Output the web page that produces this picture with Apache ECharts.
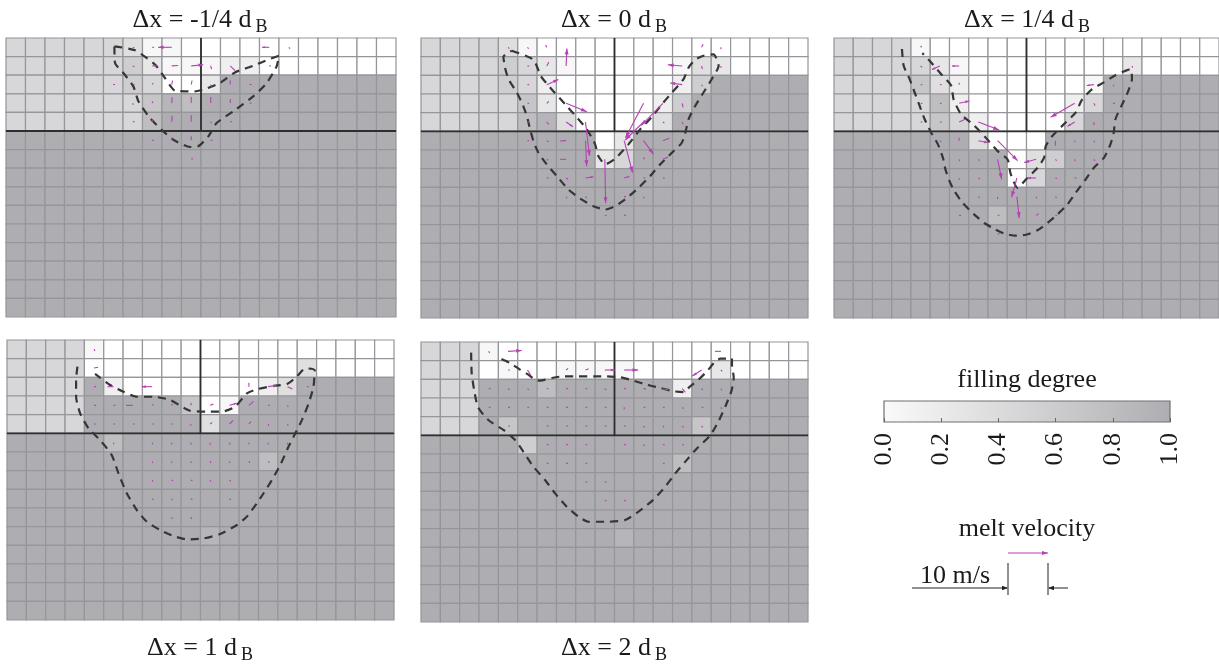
<!DOCTYPE html>
<html><head><meta charset="utf-8">
<script src="https://cdn.jsdelivr.net/npm/echarts@6/dist/echarts.min.js"></script>
<style>html,body{margin:0;padding:0;background:#fff}#c{width:1219px;height:666px}</style>
</head><body><div id="c"></div>
<script>
// ---------------- DATA ----------------
// filling degree per cell: '0'..'9' = 0.0..0.9, 'X' = 1.0 ; 15 rows x 20 columns
const FILL_M14 = [
"55555541100000000000",
"55555563111220000000",
"55555565003XXXXXXXXX",
"5555555798XXXXXXXXXX",
"55555558XXXXXXXXXXXX",
"XXXXXXXXXXXXXXXXXXXX","XXXXXXXXXXXXXXXXXXXX","XXXXXXXXXXXXXXXXXXXX","XXXXXXXXXXXXXXXXXXXX","XXXXXXXXXXXXXXXXXXXX",
"XXXXXXXXXXXXXXXXXXXX","XXXXXXXXXXXXXXXXXXXX","XXXXXXXXXXXXXXXXXXXX","XXXXXXXXXXXXXXXXXXXX","XXXXXXXXXXXXXXXXXXXX"];
const FILL_0 = [
"55554100000000000000",
"55556531000001430000",
"555565200000026XXXXX",
"55555730000026XXXXXX",
"5555589400004XXXXXXX",
"XXXXXXXXX03XXXXXXXXX",
"XXXXXXXXX35XXXXXXXXX",
"XXXXXXXXXXXXXXXXXXXX","XXXXXXXXXXXXXXXXXXXX","XXXXXXXXXXXXXXXXXXXX",
"XXXXXXXXXXXXXXXXXXXX","XXXXXXXXXXXXXXXXXXXX","XXXXXXXXXXXXXXXXXXXX","XXXXXXXXXXXXXXXXXXXX","XXXXXXXXXXXXXXXXXXXX"];
const FILL_14 = [
"55551000000000000000",
"55555310000000030000",
"55557420000001XXXXXX",
"55555820000025XXXXXX",
"5555575200005XXXXXXX",
"XXXXXXX4000XXXXXXXXX",
"XXXXXXXXX046XXXXXXXX",
"XXXXXXXXX05XXXXXXXXX",
"XXXXXXXXXXXXXXXXXXXX",
"XXXXXXXX8XXXXXXXXXXX",
"XXXXXXXXXXXXXXXXXXXX","XXXXXXXXXXXXXXXXXXXX","XXXXXXXXXXXXXXXXXXXX","XXXXXXXXXXXXXXXXXXXX","XXXXXXXXXXXXXXXXXXXX"];
const FILL_1 = [
"55551000000000000000",
"55550000000000040000",
"5555X2000000024XXXXX",
"5555XXXXX701XXXXXXXX",
"5555XXXXXX4XXXXXXXXX",
"XXXXX8XXXXXXXXXXXXXX",
"XXXXXXXXXXXXX8XXXXXX",
"XXXXXXXXXXXXXXXXXXXX","XXXXXXXXXXXXXXXXXXXX","XXXXXXXXXXXXXXXXXXXX",
"XXXXXXXXXX9XXXXXXXXX",
"XXXXXXXXXXXXXXXXXXXX","XXXXXXXXXXXXXXXXXXXX","XXXXXXXXXXXXXXXXXXXX","XXXXXXXXXXXXXXXXXXXX"];
const FILL_2 = [
"55510000000000000000",
"55501001111000030000",
"555XXX8XXXXXX2XXXXXX",
"555XXXXXXXXXXXXXXXXX",
"555X7XXXXXXXXX7XXXXX",
"XXXXX6XXXXXXXXXXXXXX",
"XXXXXXXXXXXXX8XXXXXX",
"XXXXXXXXXXXXXXXXXXXX","XXXXXXXXXXXXXXXXXXXX","XXXXXXXXXXXXXXXXXXXX",
"XXXXXXXXXX9XXXXXXXXX",
"XXXXXXXXXXXXXXXXXXXX","XXXXXXXXXXXXXXXXXXXX","XXXXXXXXXXXXXXXXXXXX","XXXXXXXXXXXXXXXXXXXX"];

// melt velocity vectors: [column, row, u (m/s, right +), v (m/s, down +)]
const VEL_M14 = [
[6,0,0.2,0.1],[7,0,0.3,0],[8,0,-3.4,0],[13,0,-1.8,0],[14,0,0.2,0.2],
[6,1,0.2,0.1],[7,1,1.4,0],[8,1,1.6,-0.1],[9,1,3,-0.3],[10,1,0.2,0.8],[11,1,1.2,1.2],[12,1,0.2,0],[13,1,0.2,0],
[5,2,0.2,0],[6,2,0.2,0],[7,2,0.2,-0.3],[8,2,0.2,-1],[9,2,0.2,-1],[10,2,0.1,0.5],[11,2,0,-1],[12,2,0.1,0],
[6,3,0.1,0.3],[7,3,0.1,-0.4],[8,3,0.1,-1.5],[9,3,0,-1.6],[10,3,0,-1.5],[11,3,0,-1],[12,3,0.1,0],
[6,4,0.1,0],[7,4,0,-0.5],[8,4,0.1,-1.5],[9,4,0,-1.6],[10,4,0.1,0.3],[11,4,0.1,0],
[7,5,0.1,0],[8,5,0.1,-0.7],[9,5,0,-1],[10,5,0.1,0],[9,6,0.1,0]];
const VEL_0 = [
[4,0,0.1,0.1],[5,0,0.1,0.1],[6,0,-0.3,-0.6],[14,0,0.4,-0.8],[15,0,0,0.3],
[5,1,0.3,0],[6,1,0.5,-1],[7,1,0.2,-4.4],[13,1,-3.6,-0.3],[14,1,0.2,0.8],[15,1,0,0.3],
[5,2,0.3,0],[6,2,2.9,-1.3],[13,2,-3,-0.4],[14,2,0.1,0.2],
[5,3,0.2,0],[6,3,0.5,-0.5],[7,3,5.2,2.1],[11,3,-4.5,8.6],[12,3,-5.4,5.5],[13,3,0.2,1],
[5,4,0.2,0],[6,4,0.5,0.6],[7,4,1.7,1.2],[8,4,1,8.5],[11,4,-4.6,4.5],[12,4,0.3,0.2],[13,4,0.2,0.6],
[5,5,0.2,0],[6,5,0.5,0.3],[7,5,-1.5,0.1],[8,5,0.3,6.4],[10,5,2.1,8],[11,5,2.5,3.4],[12,5,1.6,-0.6],
[6,6,0.3,0.2],[7,6,-1.5,0],[9,6,0.2,11],[11,6,0.3,-0.5],[12,6,1.3,-0.6],
[6,7,0.1,0],[7,7,0.5,0.3],[8,7,2,-0.3],[10,7,1.3,-0.4],[11,7,0.1,0],[12,7,0.1,0],
[7,8,0.1,0.2],[8,8,0.3,0.3],[10,8,0.2,0],[11,8,0.1,0.3],[9,9,0.1,0],[10,9,0.1,0]];
const VEL_14 = [
[4,0,0.2,-0.3],
[4,1,0.1,0.1],[5,1,-2,0.9],[6,1,-1.8,0],[15,1,0,0.2],
[4,2,0.1,0],[5,2,0.4,0],[6,2,0,-0.5],[13,2,-1.8,0.2],[14,2,0.1,0.2],
[4,3,0.1,0],[5,3,0.3,0],[6,3,2.6,-0.6],[12,3,-6,3.5],[13,3,0.3,0.6],[14,3,0.1,0],
[4,4,0.1,0],[5,4,0.1,0],[6,4,1.5,-0.7],[7,4,5.2,2],[12,4,-1.8,1.1],[13,4,0,0.8],
[5,5,0.2,0.2],[6,5,0,-0.7],[7,5,2.5,0.5],[8,5,5,5],[11,5,0,1.3],[12,5,0.1,0.4],[13,5,0.2,0.4],
[6,6,0.1,0.4],[7,6,0.3,0.3],[8,6,1,5],[10,6,-3,0.8],[11,6,0.2,0.2],[12,6,0.1,0.4],[13,6,0.2,0.3],
[6,7,0,0.4],[7,7,0.3,0.2],[9,7,-1.3,4.8],[10,7,-2.2,0],[11,7,0.3,0.1],[12,7,0.1,0],
[7,8,0.2,0.2],[8,8,0,0.6],[9,8,0.6,5.4],[10,8,0.1,0.3],[11,8,0.3,0.3],
[6,9,0.1,0],[8,9,0.1,0],[10,9,0.6,-0.4],[11,9,0.2,0],[8,10,0.1,0]];
const VEL_1 = [
[4,0,0.1,0.2],[4,1,1,-0.2],
[4,2,0.1,0],[5,2,-1.5,0],[7,2,-2.6,0],[12,2,0,-1],[13,2,2,-0.3],[14,2,1.2,0.6],[15,2,0.1,0],
[4,3,0.1,0],[5,3,0.5,0],[6,3,-1.7,0],[7,3,0.3,-0.2],[8,3,0.2,-0.3],[9,3,0.1,-0.6],[10,3,0.8,-0.3],[11,3,1.8,-0.5],[12,3,1.2,-1],[13,3,0.1,0],[14,3,0.1,0.3],
[4,4,0.1,0],[5,4,0.2,0],[6,4,0.2,0],[7,4,0.2,0],[8,4,0.2,0],[9,4,0,0.3],[10,4,0.5,-0.4],[11,4,0.9,-0.9],[12,4,0.5,-0.6],[13,4,0.1,0.3],[14,4,0.1,0.3],
[5,5,0.1,0.3],[7,5,0.1,0.3],[8,5,0.1,0.4],[9,5,0.1,0.5],[10,5,0,0.5],[11,5,0.1,0.5],[12,5,0.1,0.4],[13,5,0,0.4],[14,5,0,0.3],
[7,6,0.1,0.3],[8,6,0.1,0.3],[9,6,0.1,0.3],[10,6,0.1,0.2],[11,6,0.1,0.4],[12,6,0.1,0.2],[13,6,0.1,0.1],
[7,7,0.1,0.2],[8,7,0.2,0.1],[9,7,0.2,0.1],[10,7,0.1,0.2],[11,7,0.1,0.1],
[7,8,0.1,0.1],[8,8,0.1,0.2],[9,8,0.2,0.1],[11,8,0.1,0.1],[8,9,0.1,0.2],[9,9,0.1,0.2]];
const VEL_2 = [
[3,0,0.1,0.2],[4,0,3.4,-0.2],[15,0,-1.5,0],
[4,1,0.1,0],[5,1,0.8,1.2],[7,1,0.5,-0.4],[8,1,0.8,-0.3],[9,1,2.5,0],[10,1,3.5,0],[14,1,-2.3,1.5],[15,1,0.3,0.3],
[3,2,0.1,0],[4,2,0.1,0.1],[5,2,0.4,0.3],[6,2,0.3,0],[7,2,0.1,0],[8,2,0.1,0],[9,2,0.1,0.1],[10,2,0.2,0],[11,2,0.6,0.1],[12,2,1.3,0.3],[13,2,0.8,0.9],[14,2,0.2,0.2],[15,2,0.1,0.2],
[3,3,0.1,0],[4,3,0.2,0],[5,3,0.1,0],[6,3,0.1,0],[7,3,0.1,0],[8,3,0.2,0],[9,3,0.2,0],[10,3,0,0.1],[11,3,0.1,0],[12,3,0.1,0],[13,3,0.1,0.1],[14,3,0.1,0],[15,3,0.1,0.2],
[4,4,0.1,0],[6,4,0.1,0],[7,4,0.1,0],[8,4,0.1,0],[9,4,0.1,0],[10,4,0.1,0],[11,4,0.1,0.1],[12,4,0.1,0.1],[13,4,0.1,0.1],[14,4,0.1,0.1],
[6,5,0.1,0],[7,5,0.1,0],[8,5,0.1,0],[10,5,0.1,0],[11,5,0.1,0.1],[12,5,0.2,0],[13,5,0.1,0],
[6,6,0.1,0],[7,6,0.1,0],[8,6,0.1,0],[12,6,0.1,0],[8,7,0.1,0],[9,7,0.1,0],[9,8,0.1,0],[10,8,0.1,0]];

// melt pool boundary (dashed) in cell units [x, y]
const POOL_M14 = [[5.56,0.45],[6.62,0.66],[7.64,1.43],[8.15,2.15],[8.67,2.83],[9.69,2.87],[10.2,2.74],[10.97,2.42],[11.74,1.85],[12.68,1.49],[13.45,1.16],[14.0,0.95],[13.88,1.52],[13.37,2.42],[12.68,3.14],[11.66,3.94],[10.8,4.57],[10.38,5.29],[9.86,5.82],[9.44,5.86],[8.58,5.47],[8.07,5.02],[7.38,4.3],[6.79,3.4],[6.53,2.6],[6.02,1.88],[5.59,1.34],[5.56,0.45]];
const POOL_0 = [[4.69,0.68],[5.81,1.16],[6.19,2.03],[6.67,2.65],[7.45,3.55],[8.02,4.21],[8.57,4.89],[9.0,5.7],[9.17,6.33],[9.52,6.77],[10.03,6.47],[10.72,5.7],[11.33,4.89],[11.93,4.23],[12.45,3.55],[12.97,2.92],[13.57,2.2],[13.83,1.58],[14.17,1.16],[14.6,0.95],[15.12,0.88],[15.38,1.49],[15.03,2.2],[14.6,2.92],[14.17,3.64],[13.83,4.35],[13.66,5.07],[13.48,5.61],[13.05,6.06],[12.36,6.77],[11.84,7.4],[11.24,8.03],[10.64,8.57],[10.03,9.01],[9.52,9.19],[8.91,9.01],[8.22,8.6],[7.62,8.12],[7.02,7.4],[6.5,6.77],[6.07,6.15],[5.81,5.52],[5.64,4.89],[5.47,4.18],[5.21,3.46],[4.95,2.92],[4.52,2.2],[4.34,1.58],[4.26,1.0],[4.69,0.68]];
const POOL_14 = [[3.53,0.59],[3.62,1.49],[3.93,2.2],[4.19,2.92],[4.45,3.64],[4.71,4.35],[5.05,5.07],[5.4,5.7],[5.66,6.42],[5.79,7.04],[6.0,7.67],[6.26,8.21],[6.69,8.84],[7.29,9.46],[7.81,9.91],[8.33,10.23],[8.84,10.48],[9.45,10.59],[9.97,10.54],[10.57,10.3],[11.09,9.91],[11.6,9.46],[12.12,8.92],[12.55,8.3],[13.07,7.58],[13.5,6.95],[14.02,6.42],[14.36,5.7],[14.53,5.07],[14.62,4.35],[14.93,3.64],[15.22,3.01],[15.48,2.2],[15.4,1.67],[14.62,1.99],[14.02,2.38],[13.41,2.74],[12.9,3.28],[12.55,4.0],[12.03,4.53],[11.34,5.25],[11.0,5.79],[10.91,6.42],[10.57,6.95],[9.97,7.58],[9.53,8.03],[9.36,7.76],[9.16,7.22],[9.02,6.51],[8.5,6.06],[7.81,5.25],[7.21,4.62],[6.6,4.09],[6.21,3.28],[6.09,2.56],[5.57,1.94],[4.97,1.22],[4.59,0.81]];
const POOL_1 = [[3.64,1.43],[3.57,2.14],[3.57,3.04],[3.78,3.93],[4.21,4.73],[4.81,5.36],[5.41,6.16],[5.76,7.14],[6.19,8.21],[6.71,9.11],[7.22,9.73],[7.91,10.18],[8.6,10.5],[9.29,10.68],[10.16,10.63],[11.02,10.39],[11.88,9.91],[12.4,9.46],[12.91,8.75],[13.26,8.21],[13.69,7.5],[14.12,6.7],[14.55,5.71],[14.9,5.0],[15.24,4.29],[15.59,3.39],[15.84,2.5],[15.9,1.61],[15.41,1.52],[14.98,1.96],[14.47,2.36],[13.78,2.46],[12.91,2.64],[12.4,2.86],[11.79,3.57],[11.1,3.84],[10.33,3.84],[9.47,3.79],[9.03,3.57],[8.43,3.21],[7.57,3.04],[6.71,3.04],[6.02,2.77],[5.33,2.41],[4.55,1.82]];
const POOL_2 = [[2.59,0.57],[2.62,1.68],[2.76,2.66],[2.95,3.5],[3.48,4.18],[4.26,4.71],[4.86,5.25],[5.29,5.88],[5.81,6.68],[6.41,7.39],[6.93,8.11],[7.53,8.82],[8.14,9.36],[8.66,9.63],[9.69,9.63],[10.55,9.54],[11.24,9.09],[12.0,8.46],[12.62,7.75],[13.14,7.04],[13.66,6.41],[14.26,5.7],[14.95,5.0],[15.4,4.2],[15.75,3.4],[16.05,2.6],[16.16,1.9],[16.07,1.2],[16.07,0.89],[15.47,0.89],[15.21,1.04],[14.78,1.57],[14.34,2.02],[13.91,2.38],[13.57,2.68],[13.05,2.64],[12.36,2.46],[11.67,2.29],[10.98,2.07],[10.29,1.89],[9.6,1.84],[8.91,1.84],[8.05,1.84],[7.36,1.84],[6.76,1.93],[6.16,2.07],[5.9,2.02],[5.55,1.75],[5.12,1.48],[4.6,1.13],[3.95,0.82]];

const TITLES = ["Δx = -1/4 d","Δx = 0 d","Δx = 1/4 d","Δx = 1 d","Δx = 2 d"];
const SUBSCRIPT = "B";
const COLORBAR_TICKS = [0, 0.2, 0.4, 0.6, 0.8, 1.0];
const VELOCITY_REF = 10; // m/s
const N_COLS = 20, N_ROWS = 15, SURFACE_ROW = 5, AXIS_COL = 10;

// ---------------- STYLE / LAYOUT ----------------
const SERIF = '"Liberation Serif","Times New Roman",serif';
const C_EMPTY = '#ffffff', C_FULL = '#aeaeb2';
const C_ARROW = '#b640b4';
const PX_PER_MS = 4;
const PANELS = [
  {left:6, top:38, width:390, height:279, tx:200, ty:20},
  {left:421, top:38, width:387, height:280, tx:614, ty:20},
  {left:834, top:38, width:387, height:280, tx:1027, ty:20},
  {left:7, top:340, width:387, height:280, tx:200, ty:648},
  {left:421, top:342, width:387, height:280, tx:614, ty:648}
];
const FILLS = [FILL_M14, FILL_0, FILL_14, FILL_1, FILL_2];
const VELS = [VEL_M14, VEL_0, VEL_14, VEL_1, VEL_2];
const POOLS = [POOL_M14, POOL_0, POOL_14, POOL_1, POOL_2];
const FS_TITLE = 26, FS_SUB = 18, FS_LEGEND = 26;

function level(ch){ return ch === 'X' ? 1 : Number(ch) / 10; }
function cells(rows){
  const out = [];
  rows.forEach((s, r) => { for (let c = 0; c < s.length; c++) out.push([c, r, level(s[c])]); });
  return out;
}
function cellItem(params, api){
  const c = api.value(0), r = api.value(1);
  const p0 = api.coord([c, r]), p1 = api.coord([c + 1, r + 1]);
  return {type:'rect', shape:{x:p0[0], y:p0[1], width:p1[0]-p0[0], height:p1[1]-p0[1]},
    style:{fill: api.visual('color'), stroke:'#95959a', lineWidth:1.2}};
}
function arrowShapes(x0, y0, dx, dy, color, lw){
  let len = Math.sqrt(dx*dx + dy*dy);
  const minL = 1.8;
  if (len < minL) { if (len === 0) { dx = 0; dy = minL; } else { dx *= minL/len; dy *= minL/len; } len = minL; }
  const x1 = x0 + dx, y1 = y0 + dy;
  const ch = [{type:'line', shape:{x1:x0, y1:y0, x2:x1, y2:y1}, style:{stroke:color, lineWidth:lw}}];
  if (len > 7) {
    const ux = dx/len, uy = dy/len, h = Math.min(6, len*0.4), w = h*0.33;
    ch.push({type:'polygon', shape:{points:[[x1,y1],[x1-ux*h-uy*w, y1-uy*h+ux*w],[x1-ux*h+uy*w, y1-uy*h-ux*w]]}, style:{fill:color}});
  }
  return ch;
}
function arrowItem(params, api){
  const c = api.value(0), r = api.value(1), u = api.value(2), v = api.value(3);
  const p = api.coord([c + 0.5, r + 0.5]);
  return {type:'group', children: arrowShapes(p[0], p[1], u*PX_PER_MS, v*PX_PER_MS, C_ARROW, 1.1)};
}

const grid = [], xAxis = [], yAxis = [], series = [], title = [];
const cellSeries = [];
PANELS.forEach((P, i) => {
  grid.push({left:P.left, top:P.top, width:P.width, height:P.height});
  xAxis.push({gridIndex:i, type:'value', min:0, max:N_COLS, show:false});
  yAxis.push({gridIndex:i, type:'value', min:0, max:N_ROWS, inverse:true, show:false});
  cellSeries.push(series.length);
  series.push({type:'custom', xAxisIndex:i, yAxisIndex:i, renderItem:cellItem, data:cells(FILLS[i]), z:1, silent:true});
  series.push({type:'line', xAxisIndex:i, yAxisIndex:i, data:[[0,SURFACE_ROW],[N_COLS,SURFACE_ROW]], symbol:'none',
    lineStyle:{color:'#2e2e2e', width:1.8}, z:3, silent:true});
  series.push({type:'line', xAxisIndex:i, yAxisIndex:i, data:[[AXIS_COL,0],[AXIS_COL,SURFACE_ROW]], symbol:'none',
    lineStyle:{color:'#2e2e2e', width:1.8}, z:3, silent:true});
  series.push({type:'line', xAxisIndex:i, yAxisIndex:i, data:POOLS[i], symbol:'none', smooth:0.2,
    lineStyle:{color:'#363636', width:2.2, type:[8,6]}, z:4, silent:true});
  series.push({type:'custom', xAxisIndex:i, yAxisIndex:i, renderItem:arrowItem, data:VELS[i], z:5, silent:true});
  title.push({text:'{m|' + TITLES[i] + '}{s|' + SUBSCRIPT + '}', left:P.tx, top:P.ty, textAlign:'center', textVerticalAlign:'middle', padding:0,
    textStyle:{fontWeight:'normal', rich:{m:{fontSize:FS_TITLE, fontFamily:SERIF, fontWeight:'normal', color:'#1a1a1a', lineHeight:32},
                     s:{fontSize:FS_SUB, fontFamily:SERIF, fontWeight:'normal', color:'#1a1a1a', lineHeight:18, verticalAlign:'bottom', padding:[0,0,0,4]}}}});
});

// colour bar
const CB = 5;
grid.push({left:884, top:401, width:286, height:21});
xAxis.push({gridIndex:CB, type:'value', min:0, max:1, interval:0.2, z:10,
  axisLine:{show:false}, splitLine:{show:false},
  axisTick:{show:true, inside:true, length:4, lineStyle:{color:'#666', width:1}},
  axisLabel:{rotate:90, fontSize:FS_LEGEND, fontFamily:SERIF, color:'#1a1a1a', margin:11, formatter: v => v.toFixed(1)}});
yAxis.push({gridIndex:CB, type:'value', min:0, max:1, show:false});
series.push({type:'custom', xAxisIndex:CB, yAxisIndex:CB, data:[[COLORBAR_TICKS[0], COLORBAR_TICKS[COLORBAR_TICKS.length-1]]], z:1, silent:true,
  renderItem: (params, api) => {
    const p0 = api.coord([api.value(0), 1]), p1 = api.coord([api.value(1), 0]);
    return {type:'rect', shape:{x:p0[0], y:p0[1], width:p1[0]-p0[0], height:p1[1]-p0[1]},
      style:{fill: new echarts.graphic.LinearGradient(0,0,1,0,[{offset:0,color:'#fafafa'},{offset:1,color:C_FULL}]), stroke:'#707070', lineWidth:1.2}};
  }});

const txt = (text, x, y) => ({text, left:x, top:y, textAlign:'center', textVerticalAlign:'middle', padding:0,
  textStyle:{fontSize:FS_LEGEND, fontFamily:SERIF, color:'#1a1a1a', fontWeight:'normal'}});
title.push(txt('filling degree', 1027, 380));
title.push(txt('melt velocity', 1027, 529));
title.push(txt('10 m/s', 955, 576));

// velocity scale legend
const ax0 = 1008, ay = 553, refLen = VELOCITY_REF * PX_PER_MS;
const legendGraphics = [];
arrowShapes(ax0, ay, refLen, 0, C_ARROW, 1).forEach(e => legendGraphics.push(e));
const dimY = 588;
legendGraphics.push({type:'line', shape:{x1:912, y1:dimY, x2:ax0-1, y2:dimY}, style:{stroke:'#222', lineWidth:1}});
legendGraphics.push({type:'polygon', shape:{points:[[ax0,dimY],[ax0-6,dimY-2.2],[ax0-6,dimY+2.2]]}, style:{fill:'#222'}});
legendGraphics.push({type:'line', shape:{x1:ax0, y1:563, x2:ax0, y2:595}, style:{stroke:'#222', lineWidth:1}});
legendGraphics.push({type:'line', shape:{x1:ax0+refLen, y1:563, x2:ax0+refLen, y2:595}, style:{stroke:'#222', lineWidth:1}});
legendGraphics.push({type:'line', shape:{x1:ax0+refLen+1, y1:dimY, x2:ax0+refLen+20, y2:dimY}, style:{stroke:'#222', lineWidth:1}});
legendGraphics.push({type:'polygon', shape:{points:[[ax0+refLen,dimY],[ax0+refLen+6,dimY-2.2],[ax0+refLen+6,dimY+2.2]]}, style:{fill:'#222'}});

const chart = echarts.init(document.getElementById('c'), null, {renderer:'canvas'});
chart.setOption({
  animation:false,
  backgroundColor:'#ffffff',
  title, grid, xAxis, yAxis, series,
  visualMap:{type:'continuous', show:false, min:0, max:1, dimension:2, seriesIndex:cellSeries, inRange:{color:[C_EMPTY, C_FULL]}},
  graphic: legendGraphics.map(g => Object.assign({silent:true, z:10}, g))
});
</script>
</body></html>
